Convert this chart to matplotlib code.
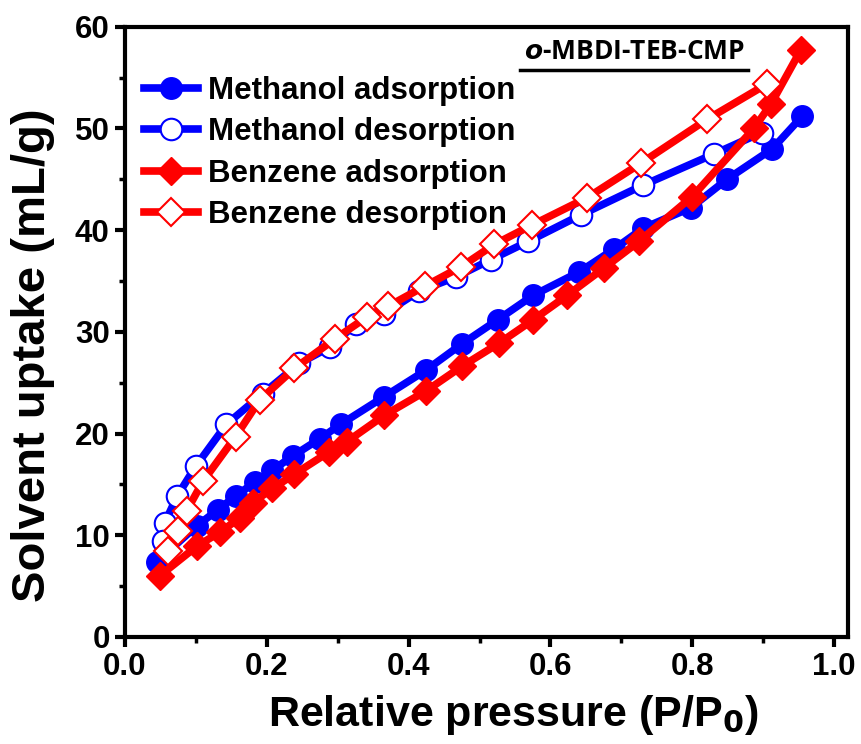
import numpy as np
import matplotlib
matplotlib.use("Agg")
import matplotlib.pyplot as plt
from matplotlib.ticker import MultipleLocator

plt.rcParams['font.family'] = ['Liberation Sans', 'DejaVu Sans']
plt.rcParams['font.weight'] = 'bold'

# methanol isotherm
meoh_ads_x = [0.045, 0.101, 0.131, 0.157, 0.183, 0.208, 0.237, 0.275, 0.304, 0.365, 0.424,
              0.475, 0.526, 0.576, 0.641, 0.689, 0.731, 0.798, 0.849, 0.913, 0.955]
meoh_ads_y = [7.4, 10.9, 12.5, 13.9, 15.2, 16.4, 17.8, 19.5, 20.9, 23.6, 26.2,
              28.8, 31.2, 33.6, 35.9, 38.1, 40.2, 42.2, 45.0, 48.0, 51.2]
meoh_des_x = [0.898, 0.831, 0.730, 0.643, 0.569, 0.516, 0.467, 0.415, 0.366, 0.326, 0.289,
              0.246, 0.194, 0.143, 0.100, 0.074, 0.056, 0.054]
meoh_des_y = [49.6, 47.5, 44.4, 41.5, 38.9, 37.1, 35.4, 34.0, 31.8, 30.8, 28.5,
              26.9, 23.9, 20.9, 16.8, 13.9, 11.2, 9.4]

# benzene isotherm
bz_ads_x = [0.049, 0.101, 0.134, 0.162, 0.180, 0.208, 0.239, 0.288, 0.313, 0.366, 0.425,
            0.475, 0.528, 0.576, 0.624, 0.676, 0.725, 0.800, 0.887, 0.911, 0.953]
bz_ads_y = [6.0, 8.9, 10.3, 11.7, 13.2, 14.6, 16.0, 18.2, 19.2, 21.8, 24.2,
            26.6, 28.9, 31.2, 33.6, 36.3, 38.9, 43.3, 50.0, 52.4, 57.7]
bz_des_x = [0.906, 0.821, 0.728, 0.652, 0.574, 0.521, 0.474, 0.423, 0.371, 0.342, 0.296,
            0.239, 0.190, 0.156, 0.110, 0.087, 0.075, 0.061]
bz_des_y = [54.4, 50.9, 46.6, 43.2, 40.5, 38.6, 36.4, 34.5, 32.5, 31.5, 29.3,
            26.4, 23.3, 19.7, 15.3, 12.4, 10.4, 8.4]

fig = plt.figure(figsize=(8.62, 7.44), dpi=100)
ax = fig.add_axes([0.145, 0.144, 0.839, 0.82])

lw = 5.5
ax.plot(meoh_ads_x, meoh_ads_y, '-o', color='blue', lw=lw, ms=15.5, mfc='blue', mec='blue',
        label='Methanol adsorption')
ax.plot(meoh_des_x, meoh_des_y, '-o', color='blue', lw=lw, ms=15.5, mfc='white', mec='blue',
        mew=1.5, label='Methanol desorption')
ax.plot(bz_ads_x, bz_ads_y, '-D', color='red', lw=lw, ms=14.5, mfc='red', mec='red',
        label='Benzene adsorption')
ax.plot(bz_des_x, bz_des_y, '-D', color='red', lw=lw, ms=14.5, mfc='white', mec='red',
        mew=1.5, label='Benzene desorption')

ax.set_xlim(0, 1.02)
ax.set_ylim(0, 60)
ax.xaxis.set_major_locator(MultipleLocator(0.2))
ax.xaxis.set_minor_locator(MultipleLocator(0.1))
ax.yaxis.set_major_locator(MultipleLocator(10))
ax.yaxis.set_minor_locator(MultipleLocator(5))
ax.tick_params(which='major', direction='out', length=7, width=3, labelsize=22.5, pad=4)
ax.tick_params(which='minor', direction='out', length=4, width=2.5)
for lab in ax.get_xticklabels() + ax.get_yticklabels():
    lab.set_fontweight('bold')
for s in ax.spines.values():
    s.set_linewidth(3)

ax.set_xlabel('Relative pressure (P/P$_\\mathbf{0}$)', fontsize=31, fontweight='bold')
ax.set_ylabel('Solvent uptake (mL/g)', fontsize=34, fontweight='bold')
ax.xaxis.set_label_coords(0.537, -0.092)
ax.yaxis.set_label_coords(-0.097, 0.462)

leg = ax.legend(loc='upper left', bbox_to_anchor=(0.0, 0.95), frameon=False,
                prop={'size': 22.5, 'weight': 'bold'}, handlelength=1.75,
                labelspacing=0.36, handletextpad=0.3, borderaxespad=0.2)

ax.text(0.704, 0.937, r'$\mathbfit{o}$-MBDI-TEB-CMP', transform=ax.transAxes,
        fontsize=19, fontweight='bold', ha='center', va='bottom',
        family=['Open Sans', 'DejaVu Sans'])
ax.plot([0.546, 0.862], [0.929, 0.929], transform=ax.transAxes, color='black', lw=2.5)

fig.savefig('out.png', dpi=100)
